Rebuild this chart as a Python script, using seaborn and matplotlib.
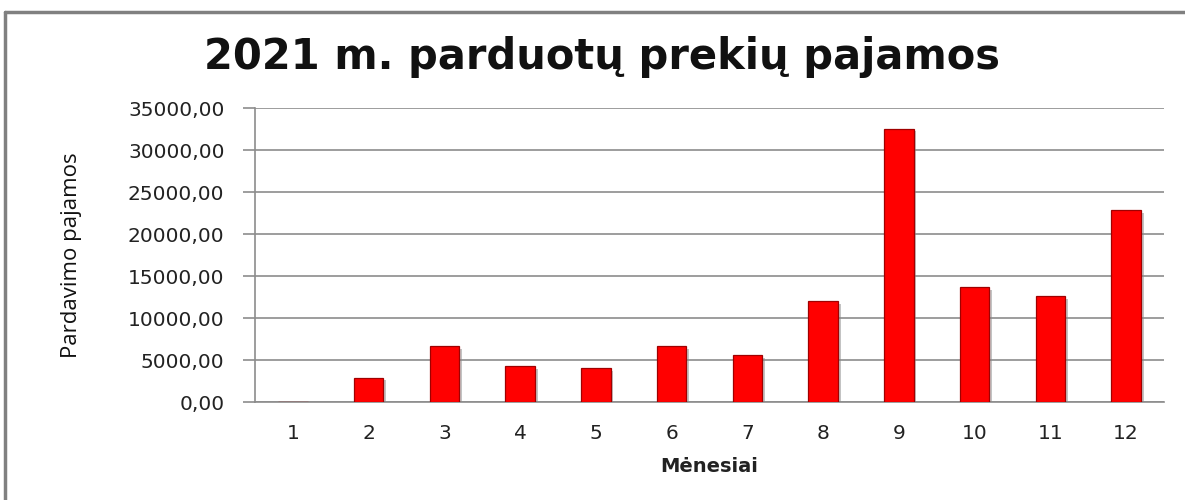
import matplotlib
matplotlib.use("Agg")
import matplotlib.pyplot as plt
import matplotlib.patheffects as pe
from matplotlib.lines import Line2D
import seaborn as sns
import pandas as pd

months = ["1", "2", "3", "4", "5", "6", "7", "8", "9", "10", "11", "12"]
revenue = [0, 2900, 6650, 4250, 4050, 6650, 5580, 12050, 32550, 13650, 12600, 22800]
y_ticks = [0, 5000, 10000, 15000, 20000, 25000, 30000, 35000]
y_tick_labels = ["0,00", "5000,00", "10000,00", "15000,00", "20000,00",
                 "25000,00", "30000,00", "35000,00"]
title = "2021 m. parduotų prekių pajamos"
x_label = "Mėnesiai"
y_label = "Pardavimo pajamos"

sns.set_theme(style="white")
plt.rcParams['font.family'] = ['DejaVu Sans']

df = pd.DataFrame({"month": months, "revenue": revenue})

fig = plt.figure(figsize=(11.85, 5.0), dpi=100)
ax = fig.add_axes([255/1185, 1-402/500, (1164-255)/1185, (402-108)/500])

sns.barplot(data=df, x="month", y="revenue", ax=ax, color="#ff0000",
            saturation=1, width=0.39, edgecolor="#a00000", linewidth=0.9)
for p in ax.patches:
    p.set_path_effects([pe.SimplePatchShadow(offset=(2, -2), shadow_rgbFace="#888888", alpha=0.5),
                        pe.Normal()])
    p.set_zorder(3)

ax.set_ylim(0, 35000)
ax.set_yticks(y_ticks)
ax.set_yticklabels(y_tick_labels)
ax.yaxis.grid(True, color="#8c8c8c", linewidth=1.2)
ax.set_axisbelow(True)
for s in ["top", "right"]:
    ax.spines[s].set_visible(False)
ax.spines["left"].set_color("#8c8c8c")
ax.spines["bottom"].set_color("#8c8c8c")
ax.spines["left"].set_linewidth(1.2)
ax.spines["bottom"].set_linewidth(1.2)
ax.tick_params(axis="y", which="major", direction="out", length=9, width=1.2,
               color="#8c8c8c", labelsize=14.5, labelcolor="#222222", pad=13, left=True)
ax.tick_params(axis="x", length=0, labelsize=14.5, labelcolor="#222222", pad=16)

ax.set_xlabel(x_label, fontsize=14, fontweight="bold", color="#222222", labelpad=10)
ax.set_ylabel(y_label, fontsize=16, color="#111111",
              family=["Open Sans", "DejaVu Sans"])
ax.yaxis.set_label_coords(-0.19, 0.5)

fig.text(0.508, 0.885, title, ha="center", va="center", fontsize=30,
         fontweight="bold", color="#111111")

# chart border
fig.add_artist(Line2D([5/1185, 5/1185], [0, 1-12/500], transform=fig.transFigure,
                      color="#808080", linewidth=2.5))
fig.add_artist(Line2D([5/1185, 1], [1-12/500, 1-12/500], transform=fig.transFigure,
                      color="#808080", linewidth=2.5))

fig.savefig("out.png", dpi=100)
